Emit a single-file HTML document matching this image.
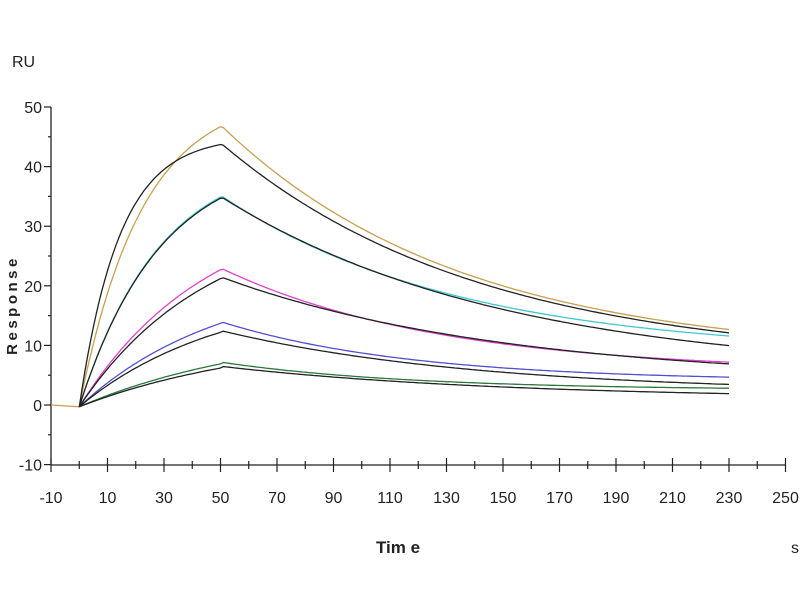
<!DOCTYPE html>
<html><head><meta charset="utf-8"><style>
html,body{margin:0;padding:0;background:#fff;}
svg{display:block;}
text{font-family:"Liberation Sans",Arial,sans-serif;fill:#222;}
</style></head><body>
<svg id="s" width="800" height="600" viewBox="0 0 800 600">
<g stroke="#222" stroke-width="1.3" fill="none">
<line x1="51" y1="107" x2="51" y2="465"/>
<line x1="51" y1="465" x2="785" y2="465"/>
</g>
<g id="ticks" stroke="#222" stroke-width="1.2"></g>
<g font-size="16" text-anchor="end" id="ylab"></g>
<g font-size="16" text-anchor="middle" id="xlab"></g>
<text x="12" y="67" font-size="16">RU</text>
<text x="0" y="0" font-size="15" font-weight="bold" letter-spacing="3.5" text-anchor="middle" transform="translate(17,305) rotate(-90)">Response</text>
<text x="398" y="553" font-size="17" font-weight="bold" text-anchor="middle">Tim e</text>
<text x="795" y="553" font-size="16" text-anchor="middle">s</text>
<g id="curves" fill="none" stroke-width="1.3"></g>
</svg>
<script>
var NS="http://www.w3.org/2000/svg";
function X(t){return 51+(t+10)*2.825;}
function Y(v){return 405-v*5.96;}
function el(p,n,a,txt){var e=document.createElementNS(NS,n);for(var k in a)e.setAttribute(k,a[k]);if(txt!==undefined)e.textContent=txt;p.appendChild(e);return e;}
var tk=document.getElementById('ticks'),yl=document.getElementById('ylab'),xl=document.getElementById('xlab');
for(var v=-10;v<=50;v+=10){el(tk,'line',{x1:44,x2:51,y1:Y(v),y2:Y(v)});el(yl,'text',{x:42,y:Y(v)+6},v);}
for(var v=-5;v<=45;v+=10){el(tk,'line',{x1:48,x2:51,y1:Y(v),y2:Y(v)});}
for(var t=-10;t<=250;t+=20){el(tk,'line',{x1:X(t),x2:X(t),y1:458,y2:472});el(xl,'text',{x:X(t),y:503},t);}
for(var t=0;t<=240;t+=20){el(tk,'line',{x1:X(t),x2:X(t),y1:461,y2:469});}
var cv=document.getElementById('curves');
function curve(col,peak,ka,b,kd,base){
 var d="",Req=peak/(1-Math.exp(-ka*50));
 var pts=[];
 if(base)pts.push([-10,0]);
 for(var t=0;t<=50;t+=1)pts.push([t,Req*(1-Math.exp(-ka*t))-0.3]);
 for(var t=51;t<=230;t+=1){var dt=t-50;pts.push([t,b+(peak-b)*Math.exp(-kd*dt)]);}
 pts.forEach(function(p,i){d+=(i?"L":"M")+X(p[0]).toFixed(1)+" "+Y(p[1]).toFixed(1);});
 el(cv,'path',{d:d,stroke:col});
}
curve('#c8a050',47,0.045,8,0.0118,true);
curve('#40c8d0',35.2,0.035,8.5,0.012);
curve('#e040d0',23,0.022,5.5,0.013);
curve('#5050d0',14,0.02,4,0.015);
curve('#2a7a3a',7.2,0.015,2.5,0.015);
curve('#222',44,0.07,7,0.011);
curve('#222',35,0.035,5,0.01);
curve('#222',21.5,0.022,4,0.01);
curve('#222',12.5,0.02,2,0.011);
curve('#222',6.5,0.015,1,0.01);
</script>
</body></html>
